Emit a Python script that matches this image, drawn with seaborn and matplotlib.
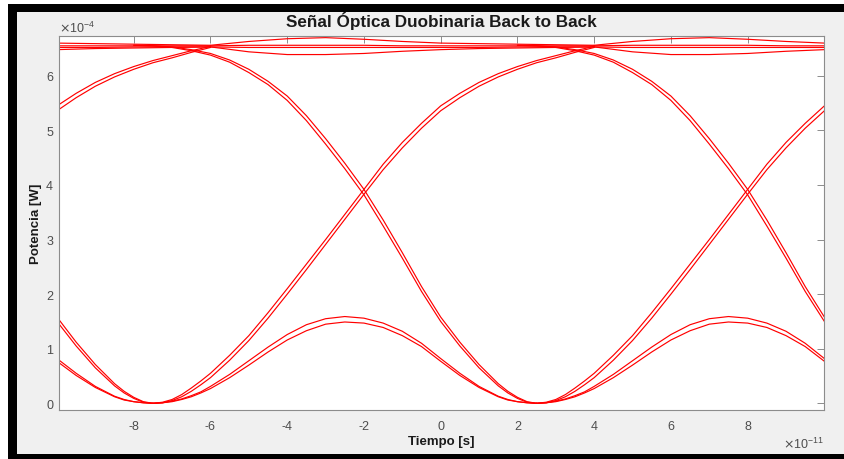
import matplotlib
matplotlib.use("Agg")
import matplotlib.pyplot as plt
from matplotlib.patches import Rectangle
from matplotlib.ticker import ScalarFormatter
import pandas as pd
import seaborn as sns

# Units: time in 1e-11 s, power in 1e-4 W; one bit slot = 10 time units
T_UNIT = 1e-11
P_UNIT = 1e-4
BIT_PERIOD = 10.0

# Rising edge (0 -> high), two nearly overlapping traces
rise_t = [-7.5, -7.25, -7.0, -6.75, -6.5, -6.25, -6.0, -5.5, -5.0, -4.5, -4.0, -3.5,
          -3.0, -2.5, -2.0, -1.5, -1.0, -0.5, 0.0, 0.5, 1.0, 1.5, 2.0, 2.5, 3.0, 3.5, 4.0]
rise_a = [0.00, 0.02, 0.07, 0.16, 0.28, 0.41, 0.55, 0.88, 1.24, 1.66, 2.10, 2.55,
          3.00, 3.46, 3.92, 4.38, 4.78, 5.13, 5.45, 5.68, 5.88, 6.04, 6.17, 6.28, 6.37, 6.46, 6.54]
rise_b = [0.00, 0.01, 0.05, 0.12, 0.22, 0.34, 0.47, 0.79, 1.15, 1.56, 2.00, 2.45,
          2.91, 3.37, 3.83, 4.28, 4.68, 5.04, 5.36, 5.60, 5.81, 5.98, 6.12, 6.24, 6.33, 6.43, 6.52]

# Falling edge (high -> 0)
fall_t = [-8.0, -7.5, -7.0, -6.5, -6.0, -5.5, -5.0, -4.5, -4.0, -3.5, -3.0, -2.5,
          -2.0, -1.5, -1.0, -0.5, 0.0, 0.5, 1.0, 1.5, 1.75, 2.0, 2.25, 2.5]
fall_a = [6.56, 6.55, 6.52, 6.46, 6.38, 6.25, 6.06, 5.84, 5.55, 5.18, 4.75, 4.30,
          3.82, 3.25, 2.66, 2.05, 1.50, 1.05, 0.65, 0.32, 0.19, 0.09, 0.02, 0.00]
fall_b = [6.56, 6.55, 6.53, 6.48, 6.41, 6.29, 6.12, 5.90, 5.63, 5.27, 4.85, 4.40,
          3.92, 3.36, 2.76, 2.14, 1.58, 1.12, 0.71, 0.36, 0.22, 0.11, 0.03, 0.00]

# Low-level bump (0 -> 0 through the intermediate level)
bump_t = [-7.5, -7.25, -7.0, -6.75, -6.5, -6.25, -6.0, -5.5, -5.0, -4.5, -4.0, -3.5, -3.0,
          -2.5, -2.0, -1.5, -1.0, -0.5, 0.0, 0.5, 1.0, 1.5, 1.75, 2.0, 2.25, 2.5]
bump_a = [0.00, 0.01, 0.04, 0.08, 0.14, 0.21, 0.31, 0.53, 0.78, 1.03, 1.26, 1.44, 1.55,
          1.59, 1.56, 1.47, 1.32, 1.10, 0.82, 0.55, 0.31, 0.13, 0.07, 0.03, 0.01, 0.00]
bump_b = [0.00, 0.01, 0.03, 0.07, 0.12, 0.19, 0.27, 0.47, 0.70, 0.94, 1.16, 1.33, 1.45,
          1.49, 1.47, 1.39, 1.24, 1.04, 0.77, 0.51, 0.29, 0.12, 0.06, 0.03, 0.01, 0.00]

# High-level traces (high -> high)
top_t = [-6.0, -5.0, -4.0, -3.0, -2.0, -1.0, 0.0, 1.0, 2.0, 3.0, 4.0]
top_upper = [6.56, 6.63, 6.68, 6.70, 6.67, 6.63, 6.60, 6.59, 6.58, 6.57, 6.56]
top_mid_a = [6.55, 6.56, 6.56, 6.56, 6.56, 6.55, 6.55, 6.55, 6.55, 6.55, 6.55]
top_mid_b = [6.53, 6.52, 6.52, 6.52, 6.52, 6.52, 6.52, 6.52, 6.53, 6.53, 6.53]
top_lower = [6.53, 6.44, 6.39, 6.39, 6.41, 6.45, 6.48, 6.50, 6.51, 6.52, 6.53]

traces = {
    "rise_a": (rise_t, rise_a), "rise_b": (rise_t, rise_b),
    "fall_a": (fall_t, fall_a), "fall_b": (fall_t, fall_b),
    "bump_a": (bump_t, bump_a), "bump_b": (bump_t, bump_b),
    "top_upper": (top_t, top_upper), "top_mid_a": (top_t, top_mid_a),
    "top_mid_b": (top_t, top_mid_b), "top_lower": (top_t, top_lower),
}

# Overlay every trace shape in the neighbouring bit slots (eye diagram)
rows = []
for name, (ts, ps) in traces.items():
    for k in (-1, 0, 1):
        for ti, pi in zip(ts, ps):
            rows.append(((ti + k * BIT_PERIOD) * T_UNIT, pi * P_UNIT, f"{name}_{k}"))
df = pd.DataFrame(rows, columns=["t", "p", "trace"])


class PlainSciFormatter(ScalarFormatter):
    """Scientific offset (x10^n) with plain-text tick labels using a hyphen minus."""
    def __call__(self, x, pos=None):
        s = super().__call__(x, pos)
        return (s.replace(r"$\mathdefault{", "").replace("}$", "")
                 .replace("\N{MINUS SIGN}", "-"))


sns.set_style("white")
plt.rcParams["font.family"] = ["Liberation Sans", "DejaVu Sans"]
plt.rcParams["axes.unicode_minus"] = False

W, H = 845, 460
fig = plt.figure(figsize=(W / 100, H / 100), dpi=100, facecolor="white")
fig.add_artist(Rectangle((8 / W, 0), (W - 8) / W, 455 / H, transform=fig.transFigure,
                         facecolor="black", edgecolor="none", zorder=-20))
fig.add_artist(Rectangle((17 / W, 5 / H), (W - 17) / W, 442 / H, transform=fig.transFigure,
                         facecolor="#f0f0f0", edgecolor="none", zorder=-10))

ax_l, ax_r, ax_t, ax_b = 59.3, 824.0, 37.0, 410.7
ax = fig.add_axes([ax_l / W, (H - ax_b) / H, (ax_r - ax_l) / W, (ax_b - ax_t) / H])
ax.set_facecolor("white")

sns.lineplot(data=df, x="t", y="p", units="trace", estimator=None, sort=False,
             color="#ff0000", linewidth=0.85, ax=ax, legend=False)

ax.set_xlim(-9.94 * T_UNIT, 9.99 * T_UNIT)
ax.set_ylim(-0.117 * P_UNIT, 6.73 * P_UNIT)
ax.set_xticks([v * T_UNIT for v in (-8, -6, -4, -2, 0, 2, 4, 6, 8)])
ax.set_yticks([v * P_UNIT for v in range(0, 7)])
for axis in (ax.xaxis, ax.yaxis):
    fmt = PlainSciFormatter(useMathText=True, useOffset=False)
    fmt.set_powerlimits((0, 0))
    axis.set_major_formatter(fmt)

spine_c = "#8c8c8c"
for s in ax.spines.values():
    s.set_color(spine_c)
    s.set_linewidth(0.8)
ax.tick_params(direction="in", length=5, width=0.7, color=spine_c,
               labelcolor="#4d4d4d", labelsize=9, top=True, right=True)
ax.tick_params(axis="x", pad=7.5)
ax.tick_params(axis="y", pad=4.5)
for off in (ax.xaxis.get_offset_text(), ax.yaxis.get_offset_text()):
    off.set_fontsize(9)
    off.set_color("#4d4d4d")

ax.set_title("Señal Óptica Duobinaria Back to Back", fontsize=12.3,
             fontweight="bold", color="#1a1a1a", pad=7)
ax.set_xlabel("Tiempo [s]", fontsize=9.5, fontweight="bold", color="#1a1a1a")
ax.set_ylabel("Potencia [W]", fontsize=9.5, fontweight="bold", color="#1a1a1a")
ax.xaxis.set_label_coords(0.5, -0.068)
ax.yaxis.set_label_coords(-0.022, 0.5)

fig.savefig("out.png", dpi=100, facecolor=fig.get_facecolor())
